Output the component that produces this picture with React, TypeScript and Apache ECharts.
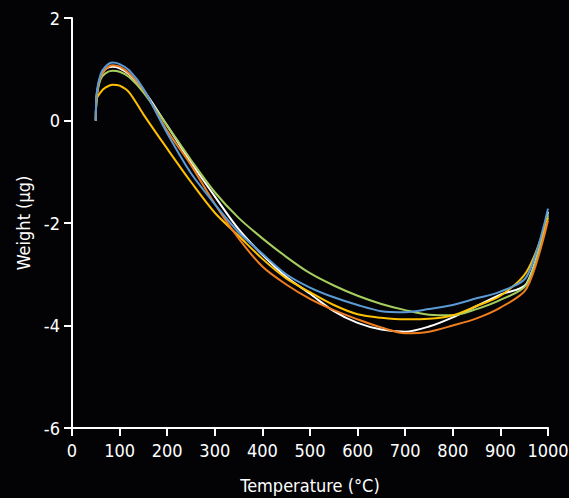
import React, { useEffect, useRef } from "react";
import * as echarts from "echarts";

const temps = [50, 52, 60, 70, 85, 100, 120, 150, 200, 250, 300, 350, 400, 450, 500, 550, 600, 650, 700, 750, 800, 850, 900, 955, 1000];

const whiteW = [0, 0.5, 0.85, 1.0, 1.05, 1.02, 0.9, 0.6, -0.1, -0.82, -1.48, -2.12, -2.62, -3.05, -3.38, -3.72, -3.95, -4.08, -4.12, -4.02, -3.84, -3.62, -3.4, -3.18, -1.78];
const greenW = [0, 0.45, 0.8, 0.92, 0.97, 0.95, 0.85, 0.55, -0.1, -0.77, -1.4, -1.9, -2.3, -2.66, -2.98, -3.22, -3.42, -3.58, -3.7, -3.79, -3.8, -3.68, -3.5, -3.2, -1.85];
const yellowW = [0, 0.42, 0.55, 0.64, 0.7, 0.68, 0.55, 0.12, -0.55, -1.2, -1.8, -2.25, -2.7, -3.08, -3.35, -3.6, -3.78, -3.85, -3.88, -3.87, -3.8, -3.62, -3.42, -2.95, -1.9];
const orangeW = [0, 0.5, 0.85, 1.0, 1.08, 1.05, 0.92, 0.6, -0.2, -0.87, -1.63, -2.3, -2.85, -3.2, -3.48, -3.7, -3.88, -4.04, -4.15, -4.12, -4.0, -3.86, -3.65, -3.28, -1.95];
const blueW = [0, 0.55, 0.9, 1.05, 1.13, 1.1, 0.98, 0.62, -0.25, -1.03, -1.63, -2.18, -2.6, -3.0, -3.26, -3.45, -3.6, -3.72, -3.74, -3.68, -3.6, -3.47, -3.34, -3.05, -1.72];

const xTicks = [0, 100, 200, 300, 400, 500, 600, 700, 800, 900, 1000];
const yTicks = [-6, -4, -2, 0, 2];

const seriesDefs = [
  { name: "White", color: "#ffffff", values: whiteW },
  { name: "Green", color: "#a6ce5e", values: greenW },
  { name: "Yellow", color: "#ffc000", values: yellowW },
  { name: "Orange", color: "#f07d1e", values: orangeW },
  { name: "Blue", color: "#5b9bd5", values: blueW },
];

const FONT = "'Liberation Sans Narrow', 'Arial Narrow', 'DejaVu Sans Condensed', sans-serif";

export default function App() {
  const ref = useRef<HTMLDivElement>(null);
  useEffect(() => {
    document.body.style.margin = "0";
    const chart = echarts.init(ref.current!, null, { renderer: "svg" });
    chart.setOption({
      animation: false,
      backgroundColor: "#030306",
      grid: { left: 72, right: 21, top: 18, bottom: 70, outerBoundsMode: "none", containLabel: false },
      xAxis: {
        type: "value",
        min: xTicks[0],
        max: xTicks[xTicks.length - 1],
        interval: 100,
        name: "Temperature (°C)",
        nameLocation: "middle",
        nameGap: 48,
        nameTextStyle: { color: "#ffffff", fontSize: 18, fontFamily: FONT },
        axisLine: { onZero: false, lineStyle: { color: "#ffffff", width: 2 } },
        axisTick: { show: true, length: 8, lineStyle: { color: "#ffffff", width: 2 } },
        axisLabel: {
          color: "#ffffff",
          fontSize: 18,
          fontFamily: FONT,
          margin: 13,
          formatter: (v: number) => String(v),
        },
        splitLine: { show: false },
      },
      yAxis: {
        type: "value",
        min: yTicks[0],
        max: yTicks[yTicks.length - 1],
        interval: 2,
        name: "Weight (µg)",
        nameLocation: "middle",
        nameGap: 40,
        nameTextStyle: { color: "#ffffff", fontSize: 18, fontFamily: FONT },
        axisLine: { show: true, onZero: false, lineStyle: { color: "#ffffff", width: 2 } },
        axisTick: { show: true, length: 8, lineStyle: { color: "#ffffff", width: 2 } },
        axisLabel: {
          color: "#ffffff",
          fontSize: 18,
          fontFamily: FONT,
          margin: 12,
          formatter: (v: number) => String(v),
        },
        splitLine: { show: false },
      },
      series: seriesDefs.map((s) => ({
        name: s.name,
        type: "line",
        showSymbol: false,
        smooth: 0.3,
        lineStyle: { color: s.color, width: 2 },
        itemStyle: { color: s.color },
        data: temps.map((t, i) => [t, s.values[i]]),
      })),
    });
    return () => chart.dispose();
  }, []);
  return <div ref={ref} style={{ position: "absolute", left: 0, top: 0, width: 569, height: 498 }} />;
}
